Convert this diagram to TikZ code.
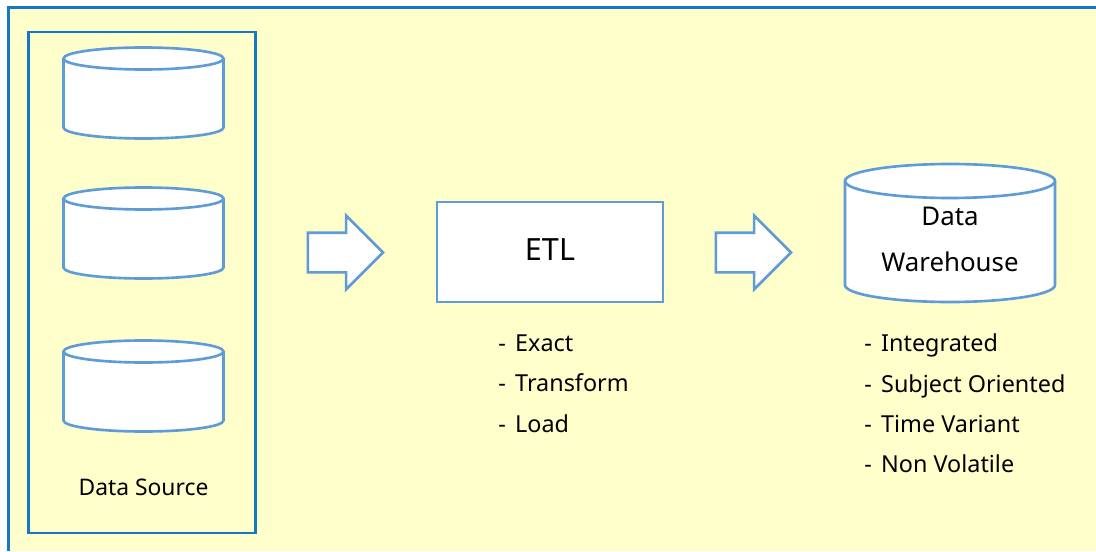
\documentclass[tikz,border=0pt]{standalone}
\usepackage{fontspec}
\setmainfont{Noto Sans}
\usetikzlibrary{shapes.arrows}
\definecolor{paleyellow}{HTML}{FFFFCC}
\definecolor{frameblue}{HTML}{1479C0}
\definecolor{shapeblue}{HTML}{5F9BD6}
\tikzset{
  storeline/.style={draw=shapeblue, fill=white, line width=1.5pt},
  pics/dbstore/.style n args={3}{code={
    \filldraw[storeline] (-#1, #3/2-#2) -- (-#1, -#3/2+#2) arc [start angle=180,end angle=360,x radius=#1,y radius=#2] -- (#1, #3/2-#2) arc [start angle=0,end angle=180,x radius=#1,y radius=#2] -- cycle;
    \draw[storeline, fill=none] (-#1, #3/2-#2) arc [start angle=180,end angle=360,x radius=#1,y radius=#2];
  }},
  flowarrow/.style={single arrow, storeline, minimum height=1.5cm, text height=0.74cm, text depth=0, single arrow head extend=0.34cm, single arrow head indent=0, inner sep=0},
  notes/.style={align=left, anchor=north west, inner sep=0, font=\fontsize{13.3}{23}\selectfont}
}
\begin{document}
\begin{tikzpicture}
  \useasboundingbox (0, 0) rectangle (21.92, 11.02);
  % background and frame
  \fill[white] (0, 0) rectangle (21.92, 11.02);
  \fill[paleyellow] (0.17, 0) rectangle (21.92, 10.87);
  \draw[frameblue, line width=1.6pt] (0.17, 0) -- (0.17, 10.87) -- (21.92, 10.87);
  % sources
  \node[draw=frameblue, line width=1.6pt, minimum width=4.54cm, minimum height=10.02cm, inner sep=0] (sourcebox) at (2.84, 5.37) {};
  \pic at (2.87, 9.16) {dbstore={1.6}{0.22}{1.82}};
  \pic at (2.87, 6.36) {dbstore={1.6}{0.22}{1.82}};
  \pic at (2.87, 3.30) {dbstore={1.6}{0.22}{1.82}};
  \node[font=\fontsize{13}{16}\selectfont] (sourcelabel) at (2.87, 1.28) {Data Source};
  % etl
  \node[flowarrow] (arrowa) at (6.71, 5.97) {};
  \node[storeline, minimum width=4.52cm, minimum height=2cm, inner sep=0, text depth=0.08cm, font=\fontsize{17.4}{20}\selectfont] (etl) at (11, 5.98) {ETL};
  \node[notes] (etlnotes) at (9.96, 4.33) {-\hspace{0.4em}Exact\\-\hspace{0.4em}Transform\\-\hspace{0.4em}Load};
  % warehouse
  \node[flowarrow] (arrowb) at (14.87, 5.97) {};
  \pic at (19, 6.36) {dbstore={2.1}{0.34}{2.76}};
  \node[align=center, font=\fontsize{14.7}{26.2}\selectfont] (warehouse) at (19, 6.24) {Data\\Warehouse};
  \node[notes] (warehousenotes) at (17.28, 4.35) {-\hspace{0.4em}Integrated\\-\hspace{0.4em}Subject Oriented\\-\hspace{0.4em}Time Variant\\-\hspace{0.4em}Non Volatile};
\end{tikzpicture}
\end{document}
